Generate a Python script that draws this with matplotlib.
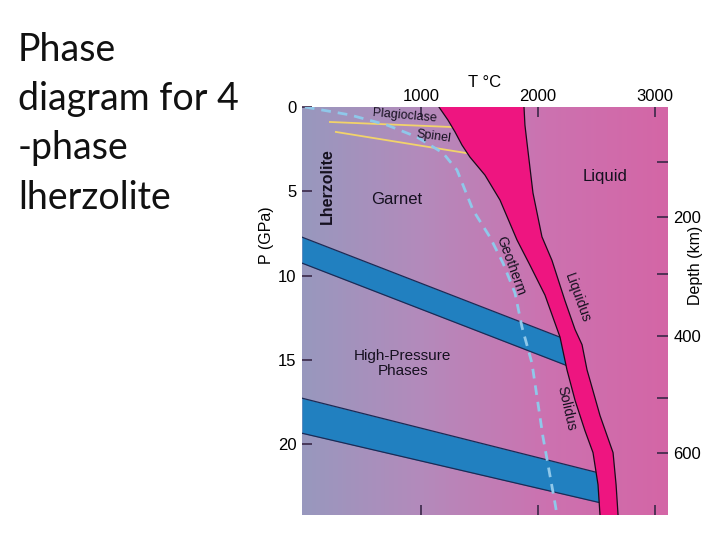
import numpy as np
import matplotlib
matplotlib.use("Agg")
import matplotlib.pyplot as plt
from matplotlib.colors import LinearSegmentedColormap

plt.rcParams['font.family'] = ['Liberation Sans', 'DejaVu Sans']

# --- data (T in degC, P in GPa) ---
solidus_T = [1150, 1227, 1288, 1348, 1416, 1545, 1674, 1820, 1931, 2060, 2189, 2249, 2318, 2403, 2472, 2515, 2532]
solidus_P = [0.0, 0.77, 1.48, 2.26, 2.97, 4.04, 5.52, 7.89, 9.38, 11.16, 13.65, 15.6, 17.4, 19.2, 20.5, 22.4, 24.2]

liquidus_T = [1880, 1888, 1906, 1957, 2034, 2120, 2232, 2318, 2378, 2421, 2446, 2532, 2644, 2670, 2687]
liquidus_P = [0.0, 1.07, 2.14, 5.1, 7.7, 9.1, 11.5, 13.2, 14.1, 15.6, 16.2, 18.3, 20.5, 22.4, 24.2]

geotherm_T = [0, 386, 704, 961, 1185, 1305, 1442, 1588, 1700, 1803, 1863, 1948, 2043, 2146, 2163]
geotherm_P = [0.0, 0.47, 1.07, 1.78, 2.73, 3.74, 6.11, 7.72, 9.26, 11.04, 13.06, 15.19, 19.58, 23.5, 24.2]

# phase-transition bands: edge lines (T start/end, P start/end)
band1_T = [-25, 2300]
band1_top_P = [7.72, 13.95]
band1_bot_P = [9.26, 15.48]
band2_T = [-25, 2600]
band2_top_P = [17.27, 21.84]
band2_bot_P = [19.35, 23.58]

# plagioclase/spinel and spinel/garnet boundaries
plag_T = [215, 1262]
plag_P = [0.89, 1.19]
spinel_T = [266, 1382]
spinel_P = [1.48, 2.73]

T_ticks = [1000, 2000, 3000]
P_ticks = [0, 5, 10, 15, 20]
depth_major = [200, 400, 600]
depth_major_P = [6.53, 13.59, 20.53]
depth_minor_P = [3.26, 9.91, 17.27]

xmin, xmax = -25, 3115
ymin, ymax = 0, 24.2

fig = plt.figure(figsize=(7.2, 5.4), dpi=100, facecolor='white')

# slide title on the left
fig.text(0.025, 0.94, 'Phase\ndiagram for 4\n-phase\nlherzolite', fontsize=27,
         family=['Lato', 'DejaVu Sans'], color='#111111', va='top', ha='left', linespacing=1.45)

ax = fig.add_axes([0.4194, 0.0463, 0.5083, 0.7556])

bg = LinearSegmentedColormap.from_list('bg', ['#9898be', '#b48abb', '#cc72b0', '#d466a6'])
ax.imshow(np.linspace(0, 1, 256).reshape(1, -1), extent=[xmin, xmax, ymax, ymin],
          aspect='auto', cmap=bg, zorder=0)

band_col = '#2180c0'
edge_col = '#1c2a55'
for bt, top, bot in [(band1_T, band1_top_P, band1_bot_P), (band2_T, band2_top_P, band2_bot_P)]:
    ax.fill_between(bt, top, bot, color=band_col, lw=0, zorder=2)
    ax.plot(bt, top, color=edge_col, lw=0.9, zorder=3)
    ax.plot(bt, bot, color=edge_col, lw=0.9, zorder=3)

# melting interval
poly_T = solidus_T + liquidus_T[::-1]
poly_P = solidus_P + liquidus_P[::-1]
ax.fill(poly_T, poly_P, color='#ee1580', lw=0, zorder=4)
ax.plot(solidus_T, solidus_P, color='#1a0a1a', lw=0.9, zorder=5)
ax.plot(liquidus_T, liquidus_P, color='#1a0a1a', lw=0.9, zorder=5)

ax.plot(plag_T, plag_P, color='#f2d36a', lw=1.3, zorder=3)
ax.plot(spinel_T, spinel_P, color='#f2d36a', lw=1.3, zorder=3)

ax.plot(geotherm_T, geotherm_P, color='#8fc8ea', lw=2, dashes=(3.5, 2.5), zorder=3)

# labels inside the diagram
tc = '#15101f'
ax.text(858, 0.53, 'Plagioclase', fontsize=9, rotation=-5, ha='center', va='center', color=tc, zorder=6)
ax.text(1107, 1.78, 'Spinel', fontsize=9, rotation=-8, ha='center', va='center', color=tc, zorder=6)
ax.text(197, 4.7, 'Lherzolite', fontsize=11.5, fontweight='bold', rotation=90,
        ha='center', va='center', color=tc, zorder=6)
ax.text(790, 5.5, 'Garnet', fontsize=12, ha='center', va='center', color=tc, zorder=6)
ax.text(2575, 4.15, 'Liquid', fontsize=12, ha='center', va='center', color=tc, zorder=6)
ax.text(841, 15.2, 'High-Pressure\nPhases', fontsize=11, ha='center', va='center',
        color=tc, linespacing=1.05, zorder=6)
ax.text(1768, 9.44, 'Geotherm', fontsize=10, rotation=-70, ha='center', va='center', color=tc, zorder=6)
ax.text(2335, 11.3, 'Liquidus', fontsize=10, rotation=-70, ha='center', va='center', color=tc, zorder=6)
ax.text(2240, 17.9, 'Solidus', fontsize=10, rotation=-77, ha='center', va='center', color=tc, zorder=6)

ax.set_xlim(xmin, xmax)
ax.set_ylim(ymax, ymin)
for s in ax.spines.values():
    s.set_visible(False)

tick_col = '#3a2848'
ax.set_xticks(T_ticks)
ax.set_yticks(P_ticks)
ax.tick_params(axis='x', top=True, bottom=True, labeltop=True, labelbottom=False,
               direction='in', length=7, width=1.2, color=tick_col, labelsize=12, pad=2)
ax.tick_params(axis='y', left=True, direction='in', length=7, width=1.2,
               color=tick_col, labelsize=12, pad=4)
ax.set_xlabel('T °C', fontsize=12)
ax.xaxis.set_label_position('top')
ax.xaxis.set_label_coords(0.5, 1.049)
ax.set_ylabel('P (GPa)', fontsize=11.5)
ax.yaxis.set_label_coords(-0.077, 0.686)

ax2 = ax.twinx()
ax2.set_ylim(ymax, ymin)
ax2.set_yticks(depth_major_P)
ax2.set_yticklabels([str(d) for d in depth_major])
ax2.set_yticks(depth_minor_P, minor=True)
ax2.tick_params(axis='y', which='both', direction='in', length=8, width=1.2,
                color=tick_col, labelsize=12, pad=4)
for s in ax2.spines.values():
    s.set_visible(False)
ax2.set_ylabel('Depth (km)', fontsize=11.5, rotation=90)
ax2.yaxis.set_label_coords(1.055, 0.613)

fig.savefig('out.png', dpi=100, facecolor='white')
